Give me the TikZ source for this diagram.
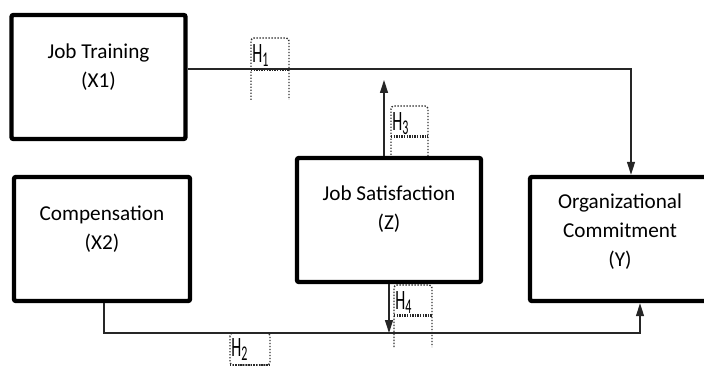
\documentclass[tikz,border=0pt]{standalone}
\usepackage{fontspec}
\setmainfont{Carlito}
\usepackage{graphicx}
\usetikzlibrary{arrows.meta, positioning}
\newcommand{\hyp}[1]{\scalebox{1}[1.75]{H\textsubscript{#1}}}

\begin{document}
\begin{tikzpicture}[
        x=0.5pt, y=-0.5pt,
        var/.style={draw=black, line width=2.2pt, rounded corners=1pt, fill=white, minimum height=62pt, inner sep=0pt},
        vartext/.style={align=center, font=\fontsize{10.6}{14.5}\selectfont},
        hyptext/.style={anchor=north west, inner sep=0pt, font=\fontsize{8}{9}\selectfont},
        hframe/.style={dash pattern=on 0.7pt off 0.8pt, line width=0.7pt, draw=black!80, rounded corners=1.5pt},
        hwave/.style={dash pattern=on 0.7pt off 0.6pt, line width=1.2pt, draw=black!85},
        link/.style={line width=0.65pt, draw=black!85},
        arrow/.style={link, -{Triangle[length=6.5pt, width=4pt]}}
    ]
    \useasboundingbox (0,0) rectangle (704,367);
    \clip (0,0) rectangle (704,367);

    \foreach \n/\xa/\xb/\ya/\ym/\yb in {1/251/289/38/69.5/100, 3/391/428/106/136.5/158, 4/394/432/285/315.5/347} {
        \draw[hframe] (\xa,\yb) -- (\xa,\ya) -- (\xb,\ya) -- (\xb,\yb);
        \draw[hwave] (\xa,\ym) -- (\xb,\ym);
        \node[hyptext] (h\n) at (\xa+1,\ya+6) {\hyp{\n}};
    }
    \draw[hframe] (230,333) rectangle (270,365);
    \draw[hwave] (230,365) -- (270,365);
    \node[hyptext] (h2) at (231,338) {\hyp{2}};

    \node[var, minimum width=87pt] (train) at (98.5,77) {};
    \node[var, minimum width=88pt] (comp) at (102,239) {};
    \node[var, minimum width=92pt] (sat) at (389,220) {};
    \node[var, minimum width=90pt] (org) at (620,239) {};

    \node[vartext, yshift=4.75pt] (train-t) at (train) {Job Training\\(X1)};
    \node[vartext, yshift=5pt] (comp-t) at (comp) {Compensation\\(X2)};
    \node[vartext, yshift=5.25pt] (sat-t) at (sat) {Job Satisfaction\\(Z)};
    \node[vartext, yshift=3.75pt] (org-t) at (org) {Organizational\\Commitment\\(Y)};

    \coordinate (turn1) at (631,69);
    \coordinate (turn2) at (640,333);
    \coordinate (up3) at (384,80);

    \draw[arrow] (train.east |- turn1) -- (turn1) -- (turn1 |- org.north);
    \draw[arrow] ([xshift=1pt]comp.south) |- (turn2) -- (turn2 |- org.south);
    \draw[arrow] (sat.north -| up3) -- (up3);
    \draw[arrow] (sat.south) -- (sat.south |- turn2);
\end{tikzpicture}
\end{document}
